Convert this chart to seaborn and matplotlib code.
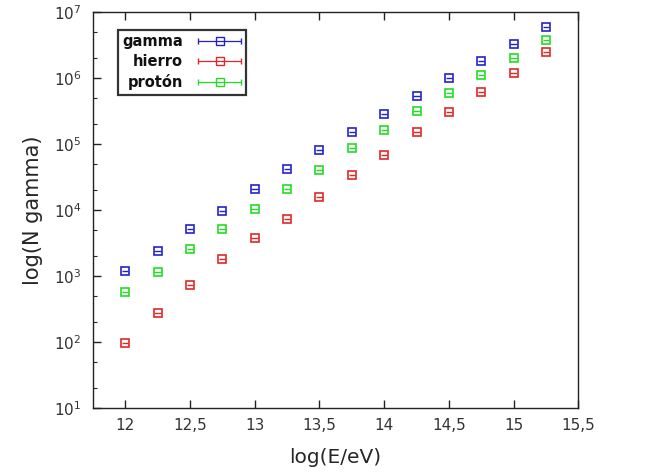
import numpy as np
import matplotlib
matplotlib.use("Agg")
import matplotlib.pyplot as plt
import seaborn as sns
from matplotlib.ticker import LogLocator, FixedLocator, NullFormatter
from matplotlib.legend_handler import HandlerErrorbar
from matplotlib.container import ErrorbarContainer

# energies log(E/eV)
log_e = [12.0, 12.25, 12.5, 12.75, 13.0, 13.25, 13.5, 13.75, 14.0, 14.25, 14.5, 14.75, 15.0, 15.25]

gamma = [1.2e3, 2.4e3, 5.1e3, 9.5e3, 2.1e4, 4.2e4, 8.1e4, 1.5e5, 2.8e5, 5.3e5, 1.0e6, 1.8e6, 3.3e6, 5.8e6]
hierro = [96, 280, 730, 1.8e3, 3.8e3, 7.3e3, 1.6e4, 3.4e4, 6.8e4, 1.5e5, 3.0e5, 6.1e5, 1.2e6, 2.5e6]
proton = [580, 1.15e3, 2.6e3, 5.2e3, 1.05e4, 2.1e4, 4.1e4, 8.7e4, 1.6e5, 3.2e5, 5.9e5, 1.1e6, 2.0e6, 3.8e6]

series_names = ["gamma", "hierro", "protón"]
series_colors = ["#2222cc", "#e02828", "#22dd22"]

x_ticks = [12, 12.5, 13, 13.5, 14, 14.5, 15, 15.5]
x_tick_labels = ["12", "12,5", "13", "13,5", "14", "14,5", "15", "15,5"]
y_ticks = [1e1, 1e2, 1e3, 1e4, 1e5, 1e6, 1e7]
y_tick_labels = ["$10^{1}$", "$10^{2}$", "$10^{3}$", "$10^{4}$", "$10^{5}$", "$10^{6}$", "$10^{7}$"]

sns.set_theme(style="ticks")
plt.rcParams["font.family"] = ["DejaVu Sans"]

fig = plt.figure(figsize=(6.58, 4.74), dpi=100)
ax = fig.add_axes([0.141, 0.139, 0.738, 0.836])

for name, vals, col in zip(series_names, [gamma, hierro, proton], series_colors):
    ax.errorbar(log_e, vals, xerr=0.025, fmt="s", ms=5.5, mfc="none", mec=col,
                mew=1.2, ecolor=col, elinewidth=1.0, capsize=0, color=col)
    # legend entry with caps, like the gnuplot key
    ax.errorbar([np.nan], [np.nan], xerr=[0.1], fmt="s", ms=5.5, mfc="none", mec=col,
                mew=1.0, ecolor=col, elinewidth=0.9, capsize=2.5, capthick=0.9,
                color=col, label=name)

ax.set_yscale("log")
ax.set_xlim(11.75, 15.5)
ax.set_ylim(10, 1e7)
ax.xaxis.set_major_locator(FixedLocator(x_ticks))
ax.set_xticklabels(x_tick_labels)
ax.yaxis.set_major_locator(FixedLocator(y_ticks))
ax.set_yticklabels(y_tick_labels)
ax.yaxis.set_minor_locator(LogLocator(base=10, subs=(2.0, 5.0), numticks=10))
ax.yaxis.set_minor_formatter(NullFormatter())

ax.tick_params(axis="both", which="major", direction="in", length=6, width=1,
               labelsize=11, colors="#222222", top=True, right=False)
ax.tick_params(axis="x", pad=7)
ax.tick_params(axis="y", pad=8)
ax.tick_params(axis="y", which="minor", direction="in", length=3, width=0.8)
ax.tick_params(axis="both", labelcolor="#333333")
for s in ax.spines.values():
    s.set_color("#222222")
    s.set_linewidth(1.0)

ax.set_xlabel("log(E/eV)", fontsize=14.5, labelpad=11)
ax.set_ylabel("log(N gamma)", fontsize=15, labelpad=8)

leg = ax.legend(loc="upper left", bbox_to_anchor=(0.052, 0.955), markerfirst=False,
                frameon=True, fancybox=False, prop={"weight": "bold", "size": 10.5},
                handlelength=3.0, borderpad=0.3, labelspacing=0.35, handletextpad=1.0,
                borderaxespad=0,
                handler_map={ErrorbarContainer: HandlerErrorbar(xerr_size=1.45)})
leg.get_frame().set_edgecolor("black")
leg.get_frame().set_linewidth(1.6)
for t in leg.get_texts():
    t.set_color("#111111")

fig.savefig("out.png", dpi=100)
